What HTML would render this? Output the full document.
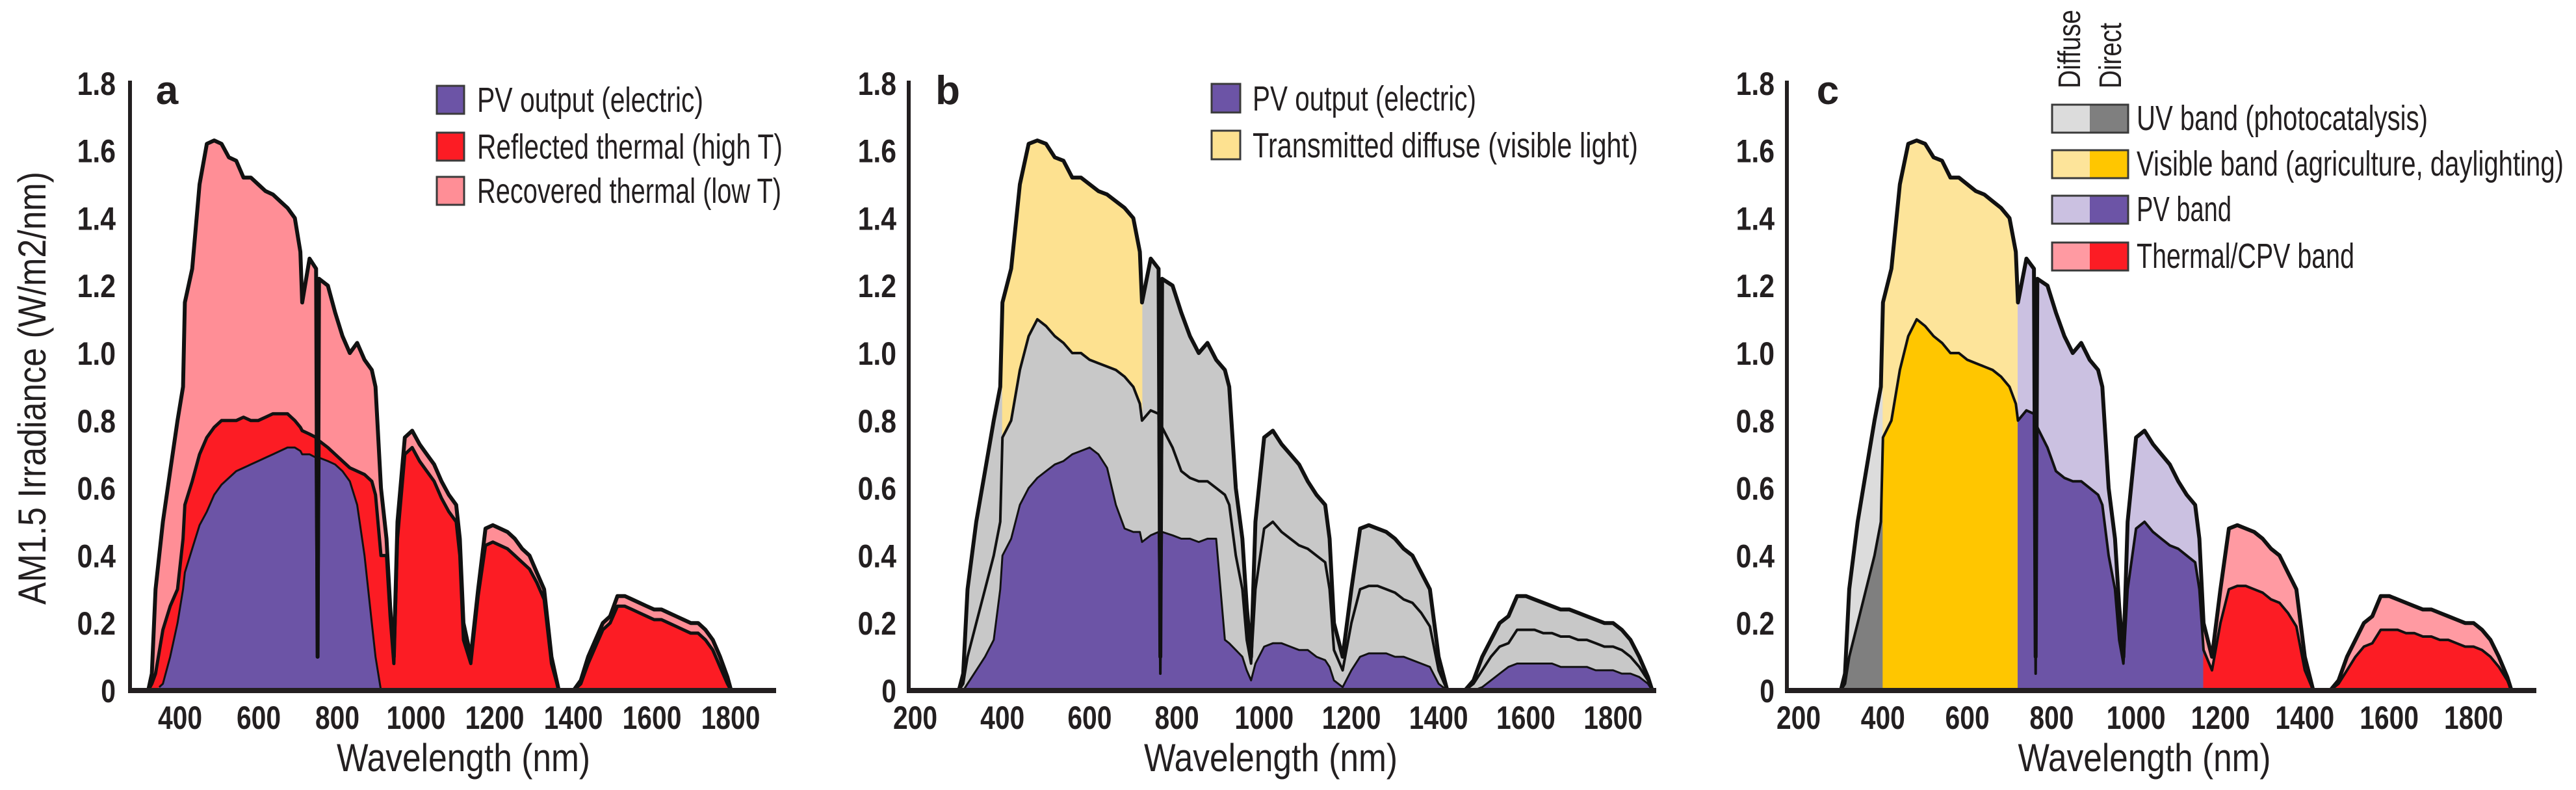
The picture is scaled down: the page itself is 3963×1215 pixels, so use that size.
<!DOCTYPE html>
<html><head><meta charset="utf-8"><style>
html,body{margin:0;padding:0;background:#fff;}
svg{display:block;}
text{font-family:"Liberation Sans Narrow","Liberation Sans",sans-serif;fill:#231f20;}
.tick{font-weight:bold;font-size:50px;}
.leg{font-size:54px;}
.ttl{font-size:60px;}
</style></head><body>
<svg id="fig" xmlns="http://www.w3.org/2000/svg" width="3963" height="1215" viewBox="0 0 3963 1215">
<g id="layer-a"></g>
<g id="layer-b"></g>
<g id="layer-c"></g>
<g id="static">
<text x="54" y="597" transform="rotate(-90 54 597)" text-anchor="middle" dominant-baseline="middle" class="ttl" font-size="58" textLength="666" lengthAdjust="spacingAndGlyphs">AM1.5 Irradiance (W/m2/nm)</text>
<text x="713" y="1186" text-anchor="middle" class="ttl" textLength="390" lengthAdjust="spacingAndGlyphs">Wavelength (nm)</text>
<text x="1955" y="1186" text-anchor="middle" class="ttl" textLength="390" lengthAdjust="spacingAndGlyphs">Wavelength (nm)</text>
<text x="3299" y="1186" text-anchor="middle" class="ttl" textLength="389" lengthAdjust="spacingAndGlyphs">Wavelength (nm)</text>
<text x="257" y="160" text-anchor="middle" font-weight="bold" font-size="62">a</text>
<text x="1458" y="160" text-anchor="middle" font-weight="bold" font-size="62">b</text>
<text x="2812" y="160" text-anchor="middle" font-weight="bold" font-size="62">c</text>
<g>
<rect x="672" y="132" width="42" height="43" fill="#6c54a6" stroke="#3a3a3a" stroke-width="3"/>
<text x="734" y="172" class="leg" textLength="348" lengthAdjust="spacingAndGlyphs">PV output (electric)</text>
<rect x="672" y="204" width="42" height="43" fill="#fc1c24" stroke="#3a3a3a" stroke-width="3"/>
<text x="734" y="244" class="leg" textLength="470" lengthAdjust="spacingAndGlyphs">Reflected thermal (high T)</text>
<rect x="672" y="272" width="42" height="43" fill="#ff8e96" stroke="#3a3a3a" stroke-width="3"/>
<text x="734" y="312" class="leg" textLength="468" lengthAdjust="spacingAndGlyphs">Recovered thermal (low T)</text>
</g>
<g>
<rect x="1864" y="129" width="44" height="44" fill="#6c54a6" stroke="#3a3a3a" stroke-width="3"/>
<text x="1927" y="170" class="leg" textLength="344" lengthAdjust="spacingAndGlyphs">PV output (electric)</text>
<rect x="1864" y="201" width="44" height="44" fill="#fde190" stroke="#3a3a3a" stroke-width="3"/>
<text x="1927" y="242" class="leg" textLength="593" lengthAdjust="spacingAndGlyphs">Transmitted diffuse (visible light)</text>
</g>
<g>
<text x="3200" y="136" transform="rotate(-90 3200 136)" font-size="48" textLength="121" lengthAdjust="spacingAndGlyphs">Diffuse</text>
<text x="3263" y="136" transform="rotate(-90 3263 136)" font-size="48" textLength="101" lengthAdjust="spacingAndGlyphs">Direct</text>
<rect x="3157" y="161" width="58" height="43" fill="#dcdcdc"/>
<rect x="3215" y="161" width="59" height="43" fill="#7f7f7f"/>
<rect x="3157" y="161" width="117" height="43" fill="none" stroke="#3a3a3a" stroke-width="3"/>
<text x="3287" y="200" class="leg" textLength="448" lengthAdjust="spacingAndGlyphs">UV band (photocatalysis)</text>
<rect x="3157" y="231" width="58" height="43" fill="#fde49a"/>
<rect x="3215" y="231" width="59" height="43" fill="#ffc600"/>
<rect x="3157" y="231" width="117" height="43" fill="none" stroke="#3a3a3a" stroke-width="3"/>
<text x="3287" y="270" class="leg" textLength="657" lengthAdjust="spacingAndGlyphs">Visible band (agriculture, daylighting)</text>
<rect x="3157" y="301" width="58" height="43" fill="#cbc1e1"/>
<rect x="3215" y="301" width="59" height="43" fill="#6c54a6"/>
<rect x="3157" y="301" width="117" height="43" fill="none" stroke="#3a3a3a" stroke-width="3"/>
<text x="3287" y="340" class="leg" textLength="146" lengthAdjust="spacingAndGlyphs">PV band</text>
<rect x="3157" y="373" width="58" height="43" fill="#ff9aa2"/>
<rect x="3215" y="373" width="59" height="43" fill="#fc1c24"/>
<rect x="3157" y="373" width="117" height="43" fill="none" stroke="#3a3a3a" stroke-width="3"/>
<text x="3287" y="412" class="leg" textLength="335" lengthAdjust="spacingAndGlyphs">Thermal/CPV band</text>
</g>
</g>
</svg>
<script>
const lam=[280,300,310,320,340,360,380,395,400,420,440,460,480,500,520,540,560,580,600,620,640,660,680,700,715,720,740,758,762,766,790,810,830,850,870,890,910,920,935,950,960,970,980,1000,1020,1040,1060,1080,1100,1120,1140,1150,1160,1180,1200,1220,1240,1260,1280,1300,1320,1340,1360,1380,1400,1420,1440,1460,1480,1500,1520,1540,1560,1580,1600,1620,1640,1660,1680,1700,1720,1740,1760,1780,1800,1820,1840,1860,1880,1890];
const globalIrr=[0,0,0.05,0.3,0.5,0.65,0.8,0.9,1.15,1.25,
1.5,1.62,1.63,1.62,1.58,1.57,1.52,1.52,1.5,1.48,
1.47,1.45,1.43,1.4,1.3,1.15,1.28,1.25,0.1,1.22,
1.2,1.12,1.05,1.0,1.03,0.98,0.95,0.9,0.6,0.45,
0.25,0.1,0.5,0.75,0.77,0.73,0.7,0.67,0.62,0.58,
0.55,0.45,0.2,0.1,0.3,0.48,0.49,0.48,0.47,0.45,
0.42,0.4,0.35,0.3,0.1,0,0,0,0.03,0.1,
0.15,0.2,0.22,0.28,0.28,0.27,0.26,0.25,0.24,0.24,
0.23,0.22,0.21,0.2,0.2,0.18,0.15,0.1,0.04,0];
const directIrr=[0,0,0.02,0.1,0.2,0.3,0.4,0.5,0.75,0.8,
0.95,1.05,1.1,1.08,1.05,1.03,1.0,1.0,0.98,0.97,
0.96,0.95,0.93,0.9,0.85,0.8,0.83,0.82,0.05,0.78,
0.72,0.65,0.63,0.62,0.62,0.6,0.58,0.55,0.4,0.3,
0.15,0.08,0.3,0.48,0.5,0.47,0.45,0.43,0.42,0.4,
0.38,0.3,0.12,0.06,0.2,0.3,0.31,0.31,0.3,0.29,
0.27,0.26,0.23,0.19,0.06,0,0,0,0.02,0.06,
0.1,0.13,0.14,0.18,0.18,0.18,0.17,0.17,0.16,0.16,
0.15,0.15,0.14,0.13,0.13,0.12,0.1,0.07,0.03,0];
const pvOutputB=[0,0,0,0.02,0.06,0.1,0.15,0.3,0.4,0.45,
0.55,0.6,0.63,0.65,0.67,0.68,0.7,0.71,0.72,0.7,
0.66,0.55,0.48,0.47,0.47,0.44,0.46,0.47,0.05,0.47,
0.46,0.45,0.45,0.44,0.45,0.45,0.15,0.14,0.12,0.1,
0.06,0.03,0.08,0.13,0.14,0.14,0.13,0.12,0.12,0.1,
0.09,0.07,0.03,0.01,0.06,0.1,0.11,0.11,0.11,0.1,
0.1,0.09,0.08,0.07,0.02,0,0,0,0,0.01,
0.03,0.05,0.07,0.08,0.08,0.08,0.08,0.08,0.07,0.07,
0.07,0.07,0.06,0.06,0.06,0.05,0.05,0.04,0.02,0];
const pvOutputA=[0,0,0,0,0.02,0.1,0.2,0.3,0.35,0.42,
0.49,0.53,0.58,0.61,0.63,0.65,0.66,0.67,0.68,0.69,
0.7,0.71,0.72,0.72,0.71,0.7,0.7,0.69,0.1,0.69,
0.68,0.67,0.65,0.62,0.55,0.4,0.2,0.1,0,0,
0,0,0,0,0,0,0,0,0,0,
0,0,0,0,0,0,0,0,0,0,
0,0,0,0,0,0,0,0,0,0,
0,0,0,0,0,0,0,0,0,0,
0,0,0,0,0,0,0,0,0,0];
const reflectedA=[0,0,0.02,0.05,0.18,0.25,0.3,0.45,0.55,0.62,
0.7,0.75,0.78,0.8,0.8,0.8,0.81,0.8,0.8,0.81,
0.82,0.82,0.82,0.8,0.78,0.77,0.76,0.75,0.1,0.74,
0.72,0.7,0.68,0.66,0.65,0.64,0.62,0.58,0.4,0.4,
0.22,0.08,0.45,0.7,0.72,0.68,0.65,0.62,0.57,0.53,
0.5,0.4,0.15,0.08,0.28,0.43,0.44,0.43,0.42,0.4,
0.38,0.36,0.32,0.27,0.08,0,0,0,0.02,0.08,
0.13,0.18,0.2,0.25,0.25,0.24,0.23,0.22,0.21,0.21,
0.2,0.19,0.18,0.17,0.17,0.15,0.12,0.07,0.02,0];
const yTicks=[0,0.2,0.4,0.6,0.8,1.0,1.2,1.4,1.6,1.8];
const yTickLabels=["0","0.2","0.4","0.6","0.8","1.0","1.2","1.4","1.6","1.8"];
const xTicksA=[400,600,800,1000,1200,1400,1600,1800];
const xTicksBC=[200,400,600,800,1000,1200,1400,1600,1800];
const bandEdges=[280,400,720,1160,1900];

const NS="http://www.w3.org/2000/svg";
const Y0=1062, YS=519;
function y(v){return Y0-v*YS;}
function val(arr,l){
  if(l<=lam[0])return arr[0];
  for(let i=1;i<lam.length;i++){ if(l<=lam[i]){const t=(l-lam[i-1])/(lam[i]-lam[i-1]);return arr[i-1]+t*(arr[i]-arr[i-1]);} }
  return arr[arr.length-1];
}
const panels={
 a:{axisX:200,axisEnd:1194,labelRight:178,xt:l=>35+0.605*l,xd:l=>228+(l-300)*0.564,ticks:xTicksA},
 b:{axisX:1398,axisEnd:2548,labelRight:1379,xt:l=>1408+(l-200)*0.671,xd:l=>1408+(l-200)*0.671,ticks:xTicksBC},
 c:{axisX:2749,axisEnd:3902,labelRight:2730,xt:l=>2767+(l-200)*0.649,xd:l=>2767+(l-200)*0.649,ticks:xTicksBC}
};
function mk(tag,attrs,parent){const e=document.createElementNS(NS,tag);for(const k in attrs)e.setAttribute(k,attrs[k]);parent.appendChild(e);return e;}
function range(l0,l1){return [l0,...lam.filter(l=>l>l0&&l<l1),l1];}
function tw(s){let w=0;for(const ch of s)w+=(ch==='.')?14:22.7;return w;}
function area(g,p,lo,hi,l0,l1,fill,name){
  const ls=range(l0,l1);const pts=[];
  ls.forEach(l=>pts.push(p.xd(l).toFixed(1)+","+y(val(hi,l)).toFixed(1)));
  ls.slice().reverse().forEach(l=>pts.push(p.xd(l).toFixed(1)+","+y(lo?val(lo,l):0).toFixed(1)));
  const e=mk("polygon",{points:pts.join(" "),fill:fill,stroke:fill,"stroke-width":"1"},g);
  
  
  return e;
}
function line(g,p,arr,l0,l1,name,w){
  const pts=range(l0,l1).map(l=>p.xd(l).toFixed(1)+","+y(val(arr,l)).toFixed(1));
  const e=mk("polyline",{points:pts.join(" "),fill:"none",stroke:"#111","stroke-width":w||5,"stroke-linejoin":"round"},g);
  
  
}
function axes(g,p,key){
  const ya=mk("line",{x1:p.axisX,y1:124,x2:p.axisX,y2:Y0+3,stroke:"#231f20","stroke-width":6},g);
  
  
  const xa=mk("line",{x1:p.axisX-3,y1:Y0,x2:p.axisEnd,y2:Y0,stroke:"#231f20","stroke-width":8},g);
  
  
  yTicks.forEach((v,i)=>{
    const s=yTickLabels[i];
    const t=mk("text",{x:p.labelRight,y:y(v)+18,"text-anchor":"end",class:"tick",textLength:tw(s),lengthAdjust:"spacingAndGlyphs"},g);
    t.textContent=s;
    
    
  });
  p.ticks.forEach(l=>{
    const s=String(l);
    const t=mk("text",{x:p.xt(l),y:1121,"text-anchor":"middle",class:"tick",textLength:tw(s),lengthAdjust:"spacingAndGlyphs"},g);
    t.textContent=s;
    
    
  });
}
(function(){
  const g=document.getElementById("layer-a"),p=panels.a;
  area(g,p,null,globalIrr,300,1890,"#ff8e96","recovered-thermal-area");
  area(g,p,null,reflectedA,300,1890,"#fc1c24","reflected-thermal-area");
  area(g,p,null,pvOutputA,330,935,"#6c54a6","pv-output-area");
  line(g,p,globalIrr,300,1890,"global-line",6);
  line(g,p,reflectedA,300,1890,"reflected-line",5);
  line(g,p,pvOutputA,330,935,"pv-line",3);
  axes(g,p,"a");
})();
(function(){
  const g=document.getElementById("layer-b"),p=panels.b;
  area(g,p,null,globalIrr,290,1890,"#c8c8c8","global-gray-area");
  area(g,p,directIrr,globalIrr,400,720,"#fde190","transmitted-diffuse-area");
  area(g,p,null,pvOutputB,300,1890,"#6c54a6","pv-output-area-b");
  line(g,p,globalIrr,290,1890,"global-line-b",6);
  line(g,p,directIrr,290,1890,"direct-line-b",4);
  line(g,p,pvOutputB,300,1890,"pv-line-b",3);
  axes(g,p,"b");
})();
(function(){
  const g=document.getElementById("layer-c"),p=panels.c;
  const dark=["#7f7f7f","#ffc600","#6c54a6","#fc1c24"];
  const light=["#dcdcdc","#fde49a","#cbc1e1","#ff9aa2"];
  const names=["uv","visible","pv","thermal"];
  for(let i=0;i<4;i++){
    area(g,p,directIrr,globalIrr,bandEdges[i],bandEdges[i+1],light[i],names[i]+"-diffuse-area");
    area(g,p,null,directIrr,bandEdges[i],bandEdges[i+1],dark[i],names[i]+"-direct-area");
  }
  line(g,p,globalIrr,290,1890,"global-line-c",6);
  line(g,p,directIrr,290,1890,"direct-line-c",4);
  axes(g,p,"c");
})();
</script>
</body></html>
